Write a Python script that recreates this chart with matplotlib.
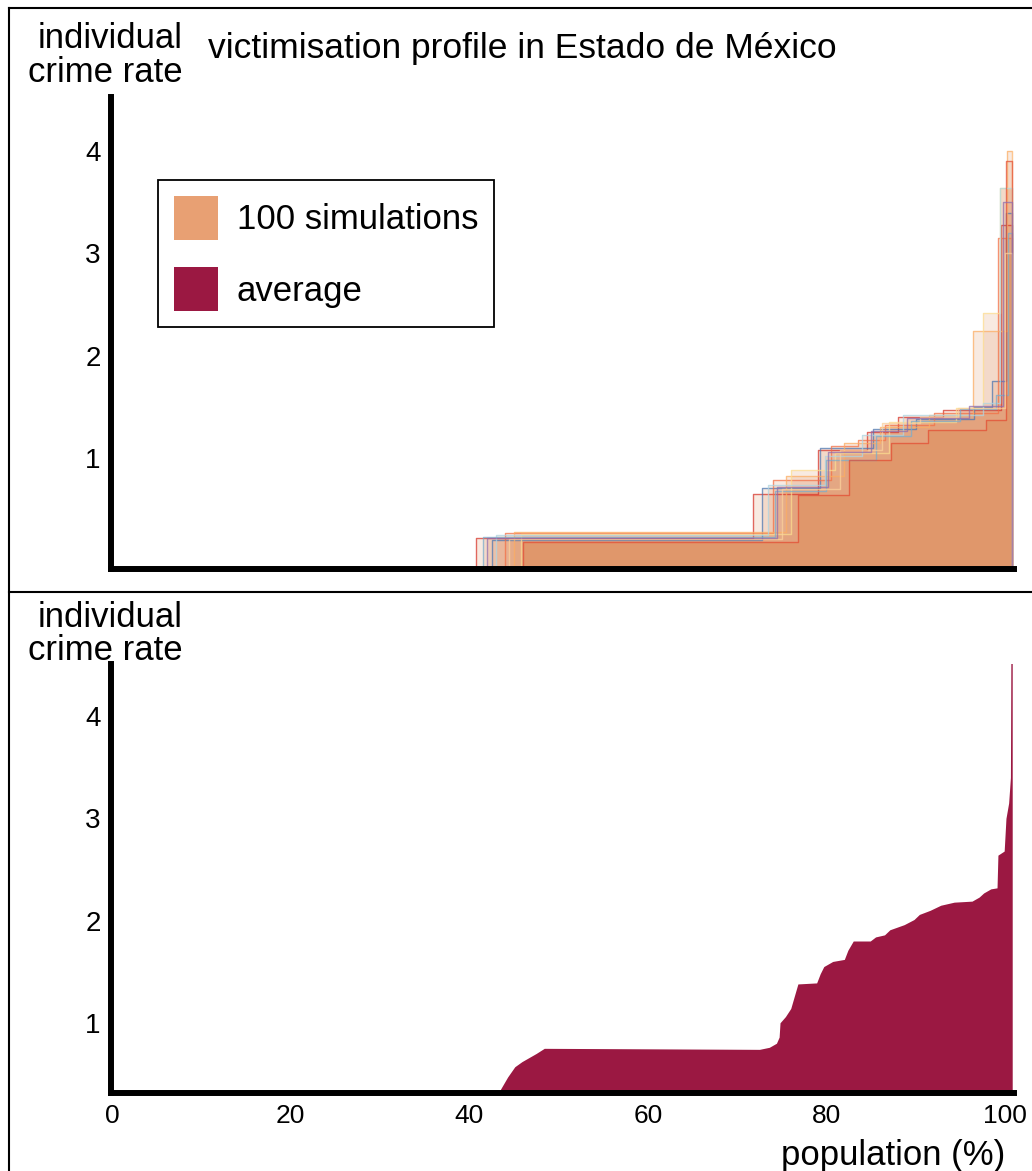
import matplotlib
matplotlib.use("Agg")
import matplotlib.pyplot as plt
import numpy as np
from matplotlib.lines import Line2D
from matplotlib.patches import Patch

plt.rcParams['font.family'] = ['Liberation Sans', 'DejaVu Sans']

# step profiles of a selection of the simulation runs: (start of step in %, crime rate)
sim_x = [
    [40.8, 71.8, 79.0, 84.5, 88.0, 93.0, 99.6],
    [42.5, 72.8, 79.3, 85.2, 90.0, 96.5, 98.5, 100.1],
    [44.0, 74.0, 80.5, 83.5, 86.5, 92.0, 99.2],
    [45.0, 75.5, 82.0, 86.0, 91.5, 96.4, 100.2],
    [45.8, 76.0, 81.0, 87.0, 94.5, 97.5, 99.4],
    [43.0, 73.5, 79.8, 84.0, 88.6, 97.5, 99.4],
    [41.5, 74.2, 80.0, 85.5, 89.5, 95.0, 99.0, 100.3],
    [46.0, 76.8, 82.5, 87.2, 91.4, 97.9, 100.1],
    [44.5, 75.0, 81.5, 86.2, 90.5, 94.7, 100.0],
    [42.0, 74.5, 80.2, 85.0, 89.0, 96.0, 99.8],
]
sim_y = [
    [0.22, 0.65, 1.08, 1.25, 1.40, 1.47, 3.28],
    [0.20, 0.71, 1.10, 1.28, 1.38, 1.50, 1.75, 3.40],
    [0.27, 0.78, 1.12, 1.18, 1.32, 1.44, 3.15],
    [0.28, 0.82, 1.15, 1.30, 1.42, 2.24, 4.00],
    [0.26, 0.88, 1.05, 1.35, 1.49, 2.42, 3.64],
    [0.25, 0.74, 1.02, 1.22, 1.42, 1.54, 3.64],
    [0.23, 0.68, 0.98, 1.21, 1.36, 1.48, 1.62, 3.20],
    [0.18, 0.64, 0.98, 1.15, 1.27, 1.37, 3.90],
    [0.21, 0.70, 1.08, 1.34, 1.40, 1.49, 3.00],
    [0.22, 0.72, 1.06, 1.26, 1.39, 1.51, 3.50],
]
sim_colors = ['#d73027', '#4575b4', '#f46d43', '#fdae61', '#fee090',
              '#abd9e9', '#74add1', '#e34a33', '#fdd49e', '#8c6bb1']
sim_end = 100.8

# averaged profile
avg_x = [43.5, 44.3, 45.1, 45.9, 47.5, 48.4, 72.5, 73.6, 74.4, 74.7, 74.8, 75.4,
         76.0, 76.4, 76.8, 78.9, 79.3, 79.7, 80.7, 82.0, 82.4, 83.0, 84.9, 85.5,
         86.5, 87.1, 88.7, 89.8, 90.4, 91.6, 92.8, 94.3, 96.3, 97.1, 97.6, 98.4,
         99.1, 99.2, 99.9, 100.1, 100.4, 100.6, 100.65, 100.8]
avg_y = [0.35, 0.47, 0.57, 0.62, 0.70, 0.75, 0.74, 0.76, 0.80, 0.86, 1.00, 1.06,
         1.14, 1.26, 1.38, 1.39, 1.48, 1.55, 1.60, 1.62, 1.71, 1.80, 1.80, 1.84,
         1.86, 1.91, 1.96, 2.01, 2.06, 2.10, 2.15, 2.18, 2.19, 2.23, 2.27, 2.31,
         2.32, 2.64, 2.68, 3.00, 3.15, 3.40, 4.60, 4.60]

y_ticks = [1, 2, 3, 4]
x_ticks = [0, 20, 40, 60, 80, 100]

SIM_FILL = '#e0976b'
SIM_PATCH = '#e8a073'
AVG_COLOR = '#9b1842'

W, H = 1032, 1171
fig = plt.figure(figsize=(W / 100, H / 100), dpi=100)


def add_axes_px(left, top, right, bottom):
    return fig.add_axes([left / W, 1 - bottom / H, (right - left) / W, (bottom - top) / H])


def style_axes(ax, ylim):
    ax.set_xlim(-0.17, 101.0)
    ax.set_ylim(*ylim)
    for side in ['top', 'right']:
        ax.spines[side].set_visible(False)
    for side in ['left', 'bottom']:
        ax.spines[side].set_linewidth(4.3)
        ax.spines[side].set_capstyle('projecting')
    ax.set_yticks(y_ticks)
    ax.tick_params(axis='both', length=0)
    ax.tick_params(axis='y', pad=7, labelsize=20)
    ax.set_facecolor('none')


def step_level(xs, ys, grid, base):
    idx = np.searchsorted(xs, grid, side='right') - 1
    out = np.asarray(ys, dtype=float)[np.clip(idx, 0, None)]
    out[idx < 0] = base
    return out


# top panel: simulation runs
ax1 = add_axes_px(110.5, 97, 1014, 569)
style_axes(ax1, (-0.086, 4.53))
ax1.set_xticks([])
base1 = ax1.get_ylim()[0]

# region shared by every run
grid = np.unique(np.concatenate([np.array(xs) for xs in sim_x] + [[sim_end]]))
core = np.min([step_level(xs, ys, grid, base1) for xs, ys in zip(sim_x, sim_y)], axis=0)
ax1.fill_between(grid, base1, core, step='post', color=SIM_FILL, lw=0)

for xs, ys in zip(sim_x, sim_y):
    ax1.fill_between(xs + [sim_end], base1, ys + [ys[-1]], step='post',
                     color=SIM_FILL, alpha=0.2, lw=0)
for xs, ys, c in zip(sim_x, sim_y, sim_colors):
    lx = [xs[0]] + xs + [sim_end, sim_end]
    ly = [base1] + ys + [ys[-1], base1]
    ax1.step(lx, ly, where='post', color=c, lw=1.0, alpha=0.7)

leg = ax1.legend(handles=[Patch(color=SIM_PATCH, lw=0), Patch(color=AVG_COLOR, lw=0)],
                 labels=['100 simulations', 'average'],
                 loc='upper left', bbox_to_anchor=(158 / W, 1 - 180 / H),
                 bbox_transform=fig.transFigure, borderaxespad=0,
                 fontsize=25, handlelength=1.27, handleheight=1.57,
                 handletextpad=0.55, labelspacing=0.8, borderpad=0.45,
                 fancybox=False, framealpha=1, edgecolor='black')
leg.get_frame().set_linewidth(1.3)

# bottom panel: average profile
ax2 = add_axes_px(110.5, 664, 1014, 1093)
style_axes(ax2, (0.313, 4.51))
ax2.set_xticks(x_ticks)
ax2.tick_params(axis='x', pad=8, labelsize=19)
base2 = ax2.get_ylim()[0]
ax2.fill_between(avg_x, base2, avg_y, color=AVG_COLOR, lw=0)

# labels
fig.text(183 / W, 1 - 48 / H, 'individual', ha='right', va='baseline', fontsize=25)
fig.text(183 / W, 1 - 82 / H, 'crime rate', ha='right', va='baseline', fontsize=25)
fig.text(208 / W, 1 - 58 / H, 'victimisation profile in Estado de México',
         ha='left', va='baseline', fontsize=25.5)
fig.text(183 / W, 1 - 627 / H, 'individual', ha='right', va='baseline', fontsize=25)
fig.text(183 / W, 1 - 660 / H, 'crime rate', ha='right', va='baseline', fontsize=25)
fig.text(1005 / W, 1 - 1155 / H, 'population (%)', ha='right', va='center', fontsize=25)

# panel frame lines
frame = dict(transform=fig.transFigure, color='black', lw=1.5)
fig.add_artist(Line2D([9 / W, 9 / W], [1 - 8 / H, 0], **frame))
fig.add_artist(Line2D([9 / W, 1], [1 - 8 / H, 1 - 8 / H], **frame))
fig.add_artist(Line2D([9 / W, 1], [1 - 592 / H, 1 - 592 / H], **frame))

fig.savefig('out.png', dpi=100)
